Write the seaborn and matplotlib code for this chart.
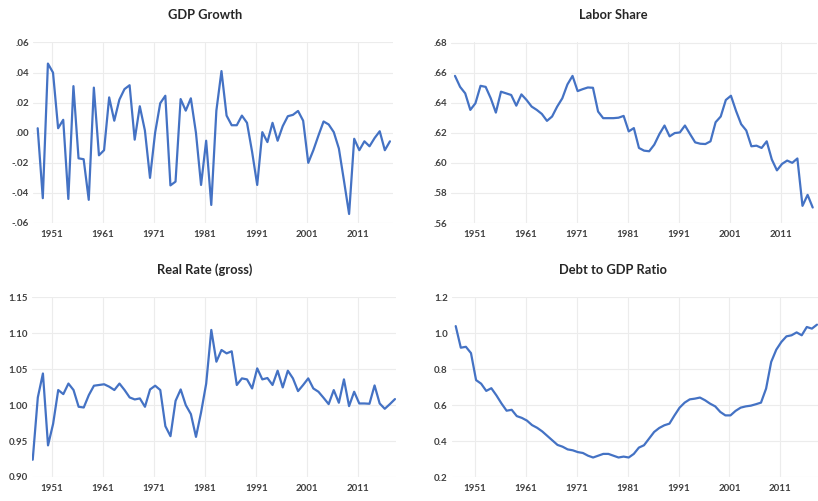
import matplotlib
matplotlib.use("Agg")
import matplotlib.pyplot as plt
import seaborn as sns
import pandas as pd

# ---------------- data ----------------
gdp_years = list(range(1948, 2018))
gdp_growth = [0.003, -0.0435, 0.046, 0.040, 0.003, 0.0086, -0.044, 0.031, -0.017, -0.0176,
              -0.0446, 0.030, -0.015, -0.0116, 0.0235, 0.008, 0.022, 0.029, 0.0316, -0.0046,
              0.0176, 0.0015, -0.030, 0.000, 0.0196, 0.0246, -0.035, -0.0325, 0.0224, 0.0147,
              0.0229, 0.000, -0.0347, -0.0053, -0.048, 0.0147, 0.041, 0.0114, 0.005, 0.005,
              0.0114, 0.0066, -0.0127, -0.0347, 0.0004, -0.0062, 0.0066, -0.0053, 0.0044, 0.011,
              0.0119, 0.0145, 0.008, -0.020, -0.0116, -0.0018, 0.0075, 0.0055, 0.0004, -0.0105,
              -0.032, -0.054, -0.004, -0.0116, -0.0057, -0.009, -0.0035, 0.001, -0.0116, -0.0057]

labor_years = list(range(1947, 2018))
labor_share = [0.6578, 0.6505, 0.6462, 0.6352, 0.6396, 0.6512, 0.6505, 0.6429, 0.6334, 0.6473,
               0.6462, 0.6451, 0.6380, 0.6455, 0.6418, 0.6374, 0.6352, 0.6325, 0.6279, 0.6308,
               0.6374, 0.6429, 0.6521, 0.6578, 0.6477, 0.6490, 0.6501, 0.6499, 0.6341, 0.6297,
               0.6297, 0.6297, 0.6300, 0.6312, 0.6209, 0.6231, 0.6099, 0.6081, 0.6077, 0.6121,
               0.6191, 0.6248, 0.6176, 0.6198, 0.6202, 0.6248, 0.6191, 0.6136, 0.6127, 0.6125,
               0.6143, 0.6270, 0.6308, 0.6418, 0.6446, 0.6345, 0.6257, 0.6215, 0.6110, 0.6114,
               0.6099, 0.6143, 0.6022, 0.5950, 0.5993, 0.6015, 0.6000, 0.6029, 0.5714, 0.5787,
               0.5703]

rate_years = list(range(1947, 2019))
real_rate = [0.924, 1.0107, 1.044, 0.944, 0.974, 1.021, 1.0153, 1.030, 1.021, 0.9977,
             0.9967, 1.014, 1.027, 1.028, 1.029, 1.0256, 1.021, 1.030, 1.021, 1.0107,
             1.0079, 1.0093, 0.9977, 1.0218, 1.027, 1.021, 0.9707, 0.9568, 1.006, 1.0218,
             1.000, 0.9875, 0.9558, 0.990, 1.030, 1.1046, 1.0604, 1.0767, 1.072, 1.0749,
             1.028, 1.0372, 1.0358, 1.0232, 1.0511, 1.0358, 1.0377, 1.028, 1.0479, 1.0246,
             1.0479, 1.0372, 1.0195, 1.028, 1.0372, 1.0232, 1.0186, 1.0102, 1.0014, 1.0209,
             1.0033, 1.0358, 0.9986, 1.0186, 1.0023, 1.0023, 1.0019, 1.0274, 1.0023, 0.9949,
             1.0014, 1.0084]

debt_years = list(range(1947, 2019))
debt_gdp = [1.04, 0.92, 0.925, 0.89, 0.74, 0.72, 0.68, 0.695, 0.655, 0.61,
            0.57, 0.575, 0.54, 0.53, 0.515, 0.49, 0.475, 0.455, 0.43, 0.405,
            0.38, 0.37, 0.355, 0.35, 0.34, 0.335, 0.32, 0.31, 0.32, 0.33,
            0.33, 0.32, 0.31, 0.315, 0.31, 0.33, 0.365, 0.378, 0.415, 0.452,
            0.474, 0.489, 0.498, 0.544, 0.587, 0.615, 0.633, 0.637, 0.643, 0.628,
            0.609, 0.594, 0.563, 0.544, 0.544, 0.569, 0.587, 0.594, 0.598, 0.606,
            0.615, 0.693, 0.841, 0.909, 0.952, 0.983, 0.989, 1.005, 0.989, 1.035,
            1.026, 1.048]

tick_years = [1951, 1961, 1971, 1981, 1991, 2001, 2011]
tick_labels = ["1951", "1961", "1971", "1981", "1991", "2001", "2011"]

titles = ["GDP Growth", "Labor Share", "Real Rate (gross)", "Debt to GDP Ratio"]

gdp_yticks = [-0.06, -0.04, -0.02, 0.00, 0.02, 0.04, 0.06]
gdp_ylabels = ["-.06", "-.04", "-.02", ".00", ".02", ".04", ".06"]
labor_yticks = [0.56, 0.58, 0.60, 0.62, 0.64, 0.66, 0.68]
labor_ylabels = [".56", ".58", ".60", ".62", ".64", ".66", ".68"]
rate_yticks = [0.90, 0.95, 1.00, 1.05, 1.10, 1.15]
rate_ylabels = ["0.90", "0.95", "1.00", "1.05", "1.10", "1.15"]
debt_yticks = [0.2, 0.4, 0.6, 0.8, 1.0, 1.2]
debt_ylabels = ["0.2", "0.4", "0.6", "0.8", "1.0", "1.2"]

# ---------------- style ----------------
sns.set_theme(style="white")
plt.rcParams['font.family'] = ['Lato', 'DejaVu Sans']

W, H = 818, 501
fig = plt.figure(figsize=(W / 100, H / 100), dpi=100)
fig.patch.set_facecolor("white")

LINE = "#4472C4"
GRID = "#ECECEC"
TXT = "#404040"


def px_axes(left, right, top, bottom):
    return fig.add_axes([left / W, 1 - bottom / H, (right - left) / W, (bottom - top) / H])


panels = [
    # (x, y, axes px box, xlim, yticks, ylabels, title center x, title y)
    (gdp_years, gdp_growth, (33, 393, 42.5, 223), (1947.08, 2017.6), gdp_yticks, gdp_ylabels, 205, 15),
    (labor_years, labor_share, (451, 817, 42.5, 223), (1946.22, 2017.84), labor_yticks, labor_ylabels, 613, 15),
    (rate_years, real_rate, (32, 396, 297.3, 477), (1946.86, 2018.2), rate_yticks, rate_ylabels, 205, 270),
    (debt_years, debt_gdp, (452, 818, 297.3, 477.3), (1946.27, 2018.2), debt_yticks, debt_ylabels, 613, 270),
]

for (xs, ys, box, xlim, yt, yl, tx, ty), title in zip(panels, titles):
    ax = px_axes(*box)
    df = pd.DataFrame({"year": xs, "value": ys})
    sns.lineplot(data=df, x="year", y="value", ax=ax, color=LINE, linewidth=1.6)
    ax.set_xlim(*xlim)
    ax.set_ylim(yt[0], yt[-1])
    ax.set_yticks(yt)
    ax.set_yticklabels(yl)
    ax.set_xticks([t - 0.2 for t in tick_years])
    ax.set_xticklabels(tick_labels)
    ax.set_xlabel("")
    ax.set_ylabel("")
    ax.grid(True, color=GRID, linewidth=0.8)
    ax.set_axisbelow(True)
    for s in ax.spines.values():
        s.set_visible(False)
    ax.tick_params(axis="both", length=0, labelsize=7, labelcolor=TXT)
    ax.tick_params(axis="x", pad=5)
    ax.tick_params(axis="y", pad=3)
    for lab in ax.get_xticklabels() + ax.get_yticklabels():
        lab.set_fontweight("bold")
    fig.text(tx / W, 1 - ty / H, title, ha="center", va="center",
             fontsize=9.3, fontweight="bold", color="#262626")

fig.savefig("out.png", dpi=100, facecolor="white")
